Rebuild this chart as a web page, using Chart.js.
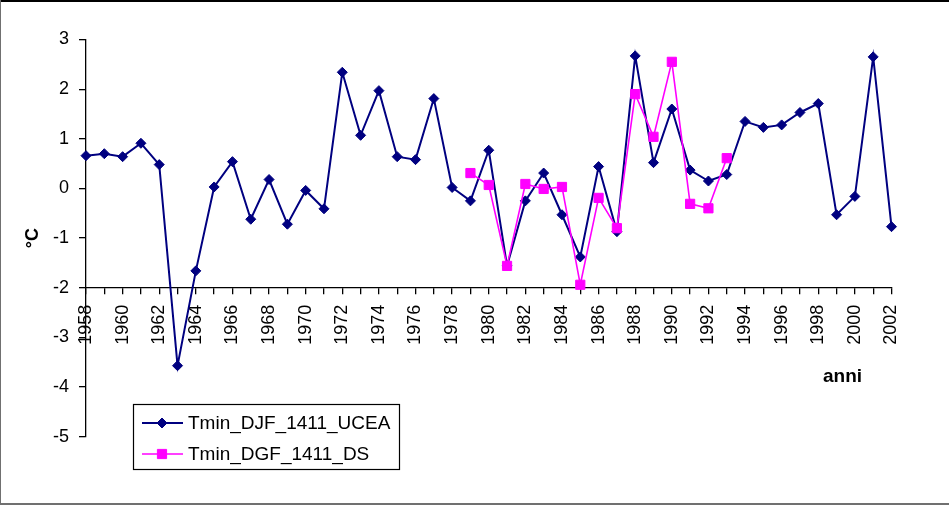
<!DOCTYPE html>
<html>
<head>
<meta charset="utf-8">
<title>Tmin DJF 1411</title>
<script src="https://cdn.jsdelivr.net/npm/chart.js@4/dist/chart.umd.min.js"></script>
<style>
  html, body { margin: 0; padding: 0; background: #ffffff; }
  #wrap { position: relative; width: 949px; height: 505px; }
</style>
</head>
<body>
<div id="wrap"><canvas id="chart" width="949" height="505"></canvas></div>
<script>
// Winter (DJF) minimum temperature anomalies, station 1411
const years = [
  1958, 1959, 1960, 1961, 1962, 1963, 1964, 1965, 1966, 1967,
  1968, 1969, 1970, 1971, 1972, 1973, 1974, 1975, 1976, 1977,
  1978, 1979, 1980, 1981, 1982, 1983, 1984, 1985, 1986, 1987,
  1988, 1989, 1990, 1991, 1992, 1993, 1994, 1995, 1996, 1997,
  1998, 1999, 2000, 2001, 2002
];

// UCEA series, one value per year
const tminUcea = [
  0.66, 0.70, 0.64, 0.91, 0.48, -3.57, -1.66, 0.03, 0.54, -0.62,
  0.18, -0.72, -0.04, -0.41, 2.34, 1.07, 1.97, 0.64, 0.58, 1.81,
  0.02, -0.25, 0.77, -1.56, -0.25, 0.31, -0.53, -1.38, 0.44, -0.87,
  2.67, 0.52, 1.60, 0.37, 0.15, 0.28, 1.35, 1.23, 1.28, 1.53,
  1.71, -0.53, -0.16, 2.65, -0.77
];

// DS series, available 1979-1993
const dsStartYear = 1979;
const tminDs = [
  0.31, 0.07, -1.56, 0.09, -0.01, 0.03, -1.94, -0.19, -0.80, 1.90,
  1.04, 2.55, -0.31, -0.40, 0.61
];

const yTicks = [-5, -4, -3, -2, -1, 0, 1, 2, 3];

const seriesNames = ['Tmin_DJF_1411_UCEA', 'Tmin_DGF_1411_DS'];
const axisTitleX = 'anni';
const axisTitleY = '°C';

const FONT = "'Liberation Sans', Arial, sans-serif";
const NAVY = '#000080';
const MAGENTA = '#FF00FF';

// align the DS series to the full year range
const dsAligned = years.map(y => {
  const i = y - dsStartYear;
  return (i >= 0 && i < tminDs.length) ? tminDs[i] : null;
});

// frame, x-axis title and boxed legend
const decorations = {
  id: 'decorations',
  beforeDraw(chart) {
    const ctx = chart.ctx;
    ctx.save();
    ctx.fillStyle = '#ffffff';
    ctx.fillRect(0, 0, chart.width, chart.height);
    ctx.restore();
  },
  afterDraw(chart) {
    const ctx = chart.ctx;
    const area = chart.chartArea;
    ctx.save();

    // outer frame
    ctx.fillStyle = '#000000';
    ctx.fillRect(0, 0, chart.width, 2);
    ctx.fillStyle = '#707070';
    ctx.fillRect(0, 0, 1, chart.height);
    ctx.fillRect(0, chart.height - 2, chart.width, 2);

    // x-axis title
    ctx.fillStyle = '#000000';
    ctx.font = 'bold 19px ' + FONT;
    ctx.textAlign = 'center';
    ctx.textBaseline = 'middle';
    ctx.fillText(axisTitleX, area.right - 49, 377);

    // legend box
    const lx = 133, ly = 404, lw = 266, lh = 65;
    ctx.lineWidth = 1.2;
    ctx.strokeStyle = '#000000';
    ctx.strokeRect(lx + 0.5, ly + 0.5, lw, lh);

    const rows = [ly + 19, ly + 50];
    chart.data.datasets.forEach((ds, i) => {
      const yy = rows[i];
      ctx.strokeStyle = ds.borderColor;
      ctx.lineWidth = ds.borderWidth;
      ctx.beginPath();
      ctx.moveTo(lx + 9, yy);
      ctx.lineTo(lx + 50, yy);
      ctx.stroke();
      ctx.fillStyle = ds.pointBackgroundColor;
      ctx.strokeStyle = ds.pointBorderColor;
      ctx.lineWidth = 1;
      Chart.helpers.drawPoint(ctx, {
        pointStyle: ds.pointStyle,
        radius: ds.pointRadius,
        rotation: 0,
        borderWidth: 1
      }, lx + 29, yy);
      ctx.fillStyle = '#000000';
      ctx.font = '19px ' + FONT;
      ctx.textAlign = 'left';
      ctx.textBaseline = 'middle';
      ctx.fillText(ds.label, lx + 55, yy + 1);
    });
    ctx.restore();
  }
};

new Chart(document.getElementById('chart'), {
  type: 'line',
  data: {
    labels: years,
    datasets: [
      {
        label: seriesNames[0],
        data: tminUcea,
        borderColor: NAVY,
        backgroundColor: NAVY,
        pointBackgroundColor: NAVY,
        pointBorderColor: NAVY,
        borderWidth: 2,
        pointStyle: 'rectRot',
        pointRadius: 5,
        pointBorderWidth: 1,
        tension: 0,
        fill: false,
        order: 1
      },
      {
        label: seriesNames[1],
        data: dsAligned,
        borderColor: MAGENTA,
        backgroundColor: MAGENTA,
        pointBackgroundColor: MAGENTA,
        pointBorderColor: MAGENTA,
        borderWidth: 1.6,
        pointStyle: 'rect',
        pointRadius: 6.5,
        pointBorderWidth: 1,
        tension: 0,
        fill: false,
        spanGaps: false,
        order: 0
      }
    ]
  },
  options: {
    responsive: false,
    animation: false,
    devicePixelRatio: 1,
    layout: { padding: { left: 0, top: 39.5, right: 57.5, bottom: 68.3 } },
    plugins: {
      legend: { display: false },
      tooltip: { enabled: false },
      title: { display: false }
    },
    scales: {
      x: {
        type: 'category',
        position: { y: -2 },
        offset: false,
        grid: {
          display: true,
          drawOnChartArea: false,
          drawTicks: true,
          tickLength: 6,
          color: '#000000',
          lineWidth: 1.3
        },
        border: { display: true, color: '#000000', width: 1.3 },
        ticks: {
          autoSkip: false,
          minRotation: 90,
          maxRotation: 90,
          padding: 11,
          color: '#000000',
          font: { family: FONT, size: 18 },
          callback: (v, i) => (i % 2 === 0 ? String(years[i]) : '')
        }
      },
      y: {
        type: 'linear',
        min: yTicks[0],
        max: yTicks[yTicks.length - 1],
        afterFit: s => { s.width = 86; },
        afterBuildTicks: s => { s.ticks = yTicks.map(v => ({ value: v })); },
        grid: {
          display: true,
          drawOnChartArea: false,
          drawTicks: true,
          tickLength: 7,
          color: '#000000',
          lineWidth: 1.3
        },
        border: { display: true, color: '#000000', width: 1.3 },
        ticks: {
          padding: 10,
          color: '#000000',
          font: { family: FONT, size: 18 }
        },
        title: {
          display: true,
          text: axisTitleY,
          color: '#000000',
          font: { family: FONT, size: 18, weight: 'bold' },
          padding: { top: 22, bottom: 0 }
        }
      }
    }
  },
  plugins: [decorations]
});
</script>
</body>
</html>
